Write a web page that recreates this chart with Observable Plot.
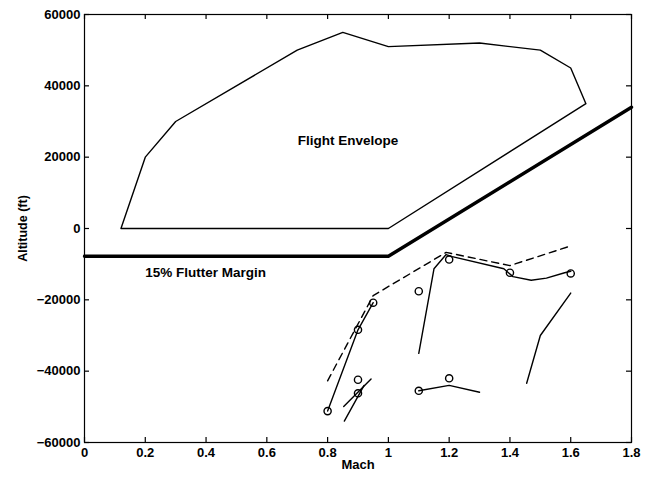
<!DOCTYPE html>
<html><head><meta charset="utf-8">
<script src="https://cdn.jsdelivr.net/npm/d3@7"></script>
<script src="https://cdn.jsdelivr.net/npm/@observablehq/plot@0.6"></script>
<style>body{margin:0;background:#fff}</style>
</head><body><div id="chart"></div>
<script>
// Flight envelope boundary (Mach, altitude ft)
const envelopeX = [0.12, 0.2, 0.3, 0.7, 0.85, 1.0, 1.3, 1.5, 1.6, 1.65, 1.0, 0.12];
const envelopeY = [0, 20000, 30000, 50000, 55000, 51000, 52000, 50000, 45000, 35000, 0, 0];
// 15% flutter margin
const marginX = [0, 1.0, 1.8];
const marginY = [-7800, -7800, 34000];
// dashed boundary
const dashedX = [0.8, 0.95, 1.19, 1.4, 1.6];
const dashedY = [-42700, -18800, -6700, -10400, -4900];
// solid flutter trend lines
const trend1X = [0.8, 0.9, 0.95];
const trend1Y = [-51200, -28400, -20800];
const trend2X = [1.1, 1.15, 1.19, 1.21, 1.38, 1.41, 1.47, 1.52, 1.58, 1.6];
const trend2Y = [-35000, -11300, -7300, -7900, -11300, -13500, -14500, -13900, -12400, -12000];
const trend3X = [1.1, 1.2, 1.3];
const trend3Y = [-45500, -44000, -45900];
const trend4X = [1.455, 1.5, 1.6];
const trend4Y = [-43400, -30000, -18100];
const trend5X = [0.853, 0.943];
const trend5Y = [-49900, -42200];
const trend6X = [0.855, 0.92];
const trend6Y = [-54000, -44000];
// flutter points (circles)
const pointX = [0.8, 0.9, 0.95, 1.1, 1.2, 1.4, 1.6, 0.9, 0.9, 1.1, 1.2];
const pointY = [-51200, -28400, -20800, -17600, -8700, -12400, -12600, -42400, -46200, -45500, -42000];
// ticks
const xTicks = [0, 0.2, 0.4, 0.6, 0.8, 1, 1.2, 1.4, 1.6, 1.8];
const yTicks = [-60000, -40000, -20000, 0, 20000, 40000, 60000];
// annotations
const noteText = ["Flight Envelope", "15% Flutter Margin"];
const noteX = [0.867, 0.2];
const noteY = [24700, -12300];
const noteAnchor = ["middle", "start"];

const toRows = (xs, ys, id) => xs.map((x, i) => ({x, y: ys[i], id}));
const trends = [
  ...toRows(trend1X, trend1Y, 1), ...toRows(trend2X, trend2Y, 2), ...toRows(trend3X, trend3Y, 3),
  ...toRows(trend4X, trend4Y, 4), ...toRows(trend5X, trend5Y, 5), ...toRows(trend6X, trend6Y, 6)
];
const notes = noteText.map((t, i) => ({t, x: noteX[i], y: noteY[i], a: noteAnchor[i]}));
const fmtY = d3.format("d");

const W = 652, H = 477, mL = 84, mR = 21, mT = 14, mB = 35, tk = 5;
const innerW = W - mL - mR, innerH = H - mT - mB;

const chart = Plot.plot({
  width: W, height: H,
  marginLeft: mL, marginRight: mR, marginTop: mT, marginBottom: mB,
  style: {fontFamily: "'Liberation Sans', Arial, sans-serif", fontSize: "13px", fontWeight: "bold", color: "black", background: "white"},
  x: {domain: [0, 1.8]},
  y: {domain: [-60000, 60000]},
  marks: [
    Plot.frame({stroke: "black", strokeWidth: 1.2}),
    Plot.axisX({anchor: "bottom", ticks: xTicks, tickSize: 0, tickPadding: 5, tickFormat: d => String(d), label: null}),
    Plot.axisY({anchor: "left", ticks: yTicks, tickSize: 0, tickPadding: 4, tickFormat: fmtY, label: null}),
    // inward tick marks on all four sides
    Plot.tickX(xTicks, {x: d => d, insetTop: innerH - tk, stroke: "black", strokeWidth: 1.2}),
    Plot.tickX(xTicks, {x: d => d, insetBottom: innerH - tk, stroke: "black", strokeWidth: 1.2}),
    Plot.tickY(yTicks, {y: d => d, insetRight: innerW - tk, stroke: "black", strokeWidth: 1.2}),
    Plot.tickY(yTicks, {y: d => d, insetLeft: innerW - tk, stroke: "black", strokeWidth: 1.2}),
    Plot.text(["Mach"], {frameAnchor: "bottom", dy: 26, textAnchor: "middle", fontSize: 13, fontWeight: "bold"}),
    Plot.text(["Altitude (ft)"], {frameAnchor: "left", dx: -62, rotate: -90, textAnchor: "middle", fontSize: 12.5, fontWeight: "bold"}),
    Plot.line(toRows(envelopeX, envelopeY, 0), {x: "x", y: "y", stroke: "black", strokeWidth: 1.4}),
    Plot.line(toRows(marginX, marginY, 0), {x: "x", y: "y", stroke: "black", strokeWidth: 3.4}),
    Plot.line(toRows(dashedX, dashedY, 0), {x: "x", y: "y", stroke: "black", strokeWidth: 1.4, strokeDasharray: "7,5"}),
    Plot.line(trends, {x: "x", y: "y", z: "id", stroke: "black", strokeWidth: 1.4}),
    Plot.dot(toRows(pointX, pointY, 0), {x: "x", y: "y", r: 3.6, stroke: "black", strokeWidth: 1.4, fill: "none"}),
    Plot.text(notes, {x: "x", y: "y", text: "t", textAnchor: "start", fontSize: 13.5, fontWeight: "bold", filter: d => d.a === "start"}),
    Plot.text(notes, {x: "x", y: "y", text: "t", textAnchor: "middle", fontSize: 13.5, fontWeight: "bold", filter: d => d.a === "middle"})
  ]
});
document.getElementById("chart").append(chart);
</script>
</body></html>
